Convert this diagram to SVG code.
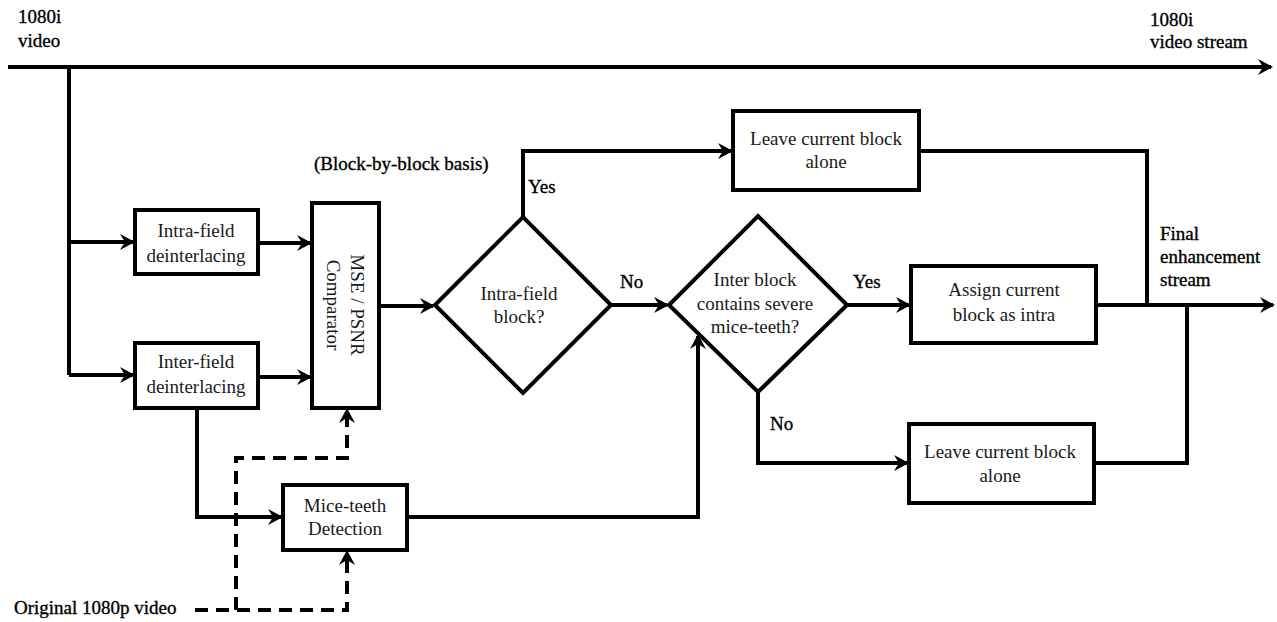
<svg xmlns="http://www.w3.org/2000/svg" width="1277" height="622" viewBox="0 0 1277 622">
<style>
  .box { fill: #fff; stroke: #000; stroke-width: 4; }
  .ln { fill: none; stroke: #000; stroke-width: 4; }
  .dash { fill: none; stroke: #000; stroke-width: 4; stroke-dasharray: 13 8; }
  .t { font-family: "Liberation Serif", "Times New Roman", serif; font-size: 19px; fill: #1a1a1a; text-anchor: middle; }
  .lb { font-family: "Liberation Serif", "Times New Roman", serif; font-size: 19px; fill: #000; stroke: #000; stroke-width: 0.35; }
</style>
<defs>
  <marker id="arr" markerUnits="userSpaceOnUse" markerWidth="16" markerHeight="16" refX="13" refY="8" orient="auto">
    <path d="M0,0 L15,8 L0,16 L5,8 z" fill="#000"/>
  </marker>
</defs>
<rect width="1277" height="622" fill="#fff"/>

<g id="connectors">
  <path class="ln" d="M8,67 H1271" marker-end="url(#arr)"/>
  <path class="ln" d="M69,67 V375"/>
  <path class="ln" d="M69,242 H133" marker-end="url(#arr)"/>
  <path class="ln" d="M69,375 H133" marker-end="url(#arr)"/>
  <path class="ln" d="M258,243 H310" marker-end="url(#arr)"/>
  <path class="ln" d="M258,377 H310" marker-end="url(#arr)"/>
  <path class="ln" d="M379,306 H433" marker-end="url(#arr)"/>
  <path class="ln" d="M523,217 V151 H731" marker-end="url(#arr)"/>
  <path class="ln" d="M611,305 H667" marker-end="url(#arr)"/>
  <path class="ln" d="M847,305 H909" marker-end="url(#arr)"/>
  <path class="ln" d="M758,392 V463 H907" marker-end="url(#arr)"/>
  <path class="ln" d="M919,151 H1147 V305"/>
  <path class="ln" d="M1094,463 H1187 V305"/>
  <path class="ln" d="M1096,305 H1273" marker-end="url(#arr)"/>
  <path class="ln" d="M197,408 V517 H281" marker-end="url(#arr)"/>
  <path class="ln" d="M407,517 H698 V336" marker-end="url(#arr)"/>
  <path class="dash" d="M195,610 H347 V552" marker-end="url(#arr)"/>
  <path class="dash" d="M236,610 V458 H347 V410" marker-end="url(#arr)"/>
</g>

<g id="intra-deint">
  <rect class="box" x="135" y="210" width="123" height="64"/>
  <text class="t" x="196" y="237">Intra-field</text>
  <text class="t" x="196" y="262">deinterlacing</text>
</g>
<g id="inter-deint">
  <rect class="box" x="135" y="343" width="123" height="65"/>
  <text class="t" x="196" y="368">Inter-field</text>
  <text class="t" x="196" y="393">deinterlacing</text>
</g>
<g id="comparator">
  <rect class="box" x="312" y="203" width="67" height="205"/>
  <text class="t" transform="translate(351,305) rotate(90)">MSE / PSNR</text>
  <text class="t" transform="translate(327,305) rotate(90)">Comparator</text>
</g>
<g id="mice-detect">
  <rect class="box" x="283" y="485" width="124" height="65"/>
  <text class="t" x="345" y="512">Mice-teeth</text>
  <text class="t" x="345" y="535">Detection</text>
</g>
<g id="dec-intra">
  <polygon class="box" points="435,305 523,217 611,305 523,393"/>
  <text class="t" x="519" y="300">Intra-field</text>
  <text class="t" x="519" y="323">block?</text>
</g>
<g id="dec-mice">
  <polygon class="box" points="669,305 758,216 847,305 758,392"/>
  <text class="t" x="755" y="286">Inter block</text>
  <text class="t" x="755" y="310">contains severe</text>
  <text class="t" x="755" y="333">mice-teeth?</text>
</g>
<g id="leave-top">
  <rect class="box" x="733" y="111" width="186" height="79"/>
  <text class="t" x="826" y="145">Leave current block</text>
  <text class="t" x="826" y="168">alone</text>
</g>
<g id="assign">
  <rect class="box" x="911" y="266" width="185" height="77"/>
  <text class="t" x="1004" y="296">Assign current</text>
  <text class="t" x="1004" y="321">block as intra</text>
</g>
<g id="leave-bottom">
  <rect class="box" x="909" y="424" width="185" height="79"/>
  <text class="t" x="1000" y="458">Leave current block</text>
  <text class="t" x="1000" y="482">alone</text>
</g>

<g id="labels">
  <text class="lb" x="18" y="23">1080i</text>
  <text class="lb" x="18" y="47">video</text>
  <text class="lb" x="1150" y="26">1080i</text>
  <text class="lb" x="1150" y="48">video stream</text>
  <text class="lb" x="314" y="170">(Block-by-block basis)</text>
  <text class="lb" x="1160" y="240">Final</text>
  <text class="lb" x="1160" y="263">enhancement</text>
  <text class="lb" x="1160" y="286">stream</text>
  <text class="lb" x="14" y="614">Original 1080p video</text>
  <text class="lb" x="528" y="193">Yes</text>
  <text class="lb" x="620" y="288">No</text>
  <text class="lb" x="853" y="288">Yes</text>
  <text class="lb" x="770" y="430">No</text>
</g>
</svg>
